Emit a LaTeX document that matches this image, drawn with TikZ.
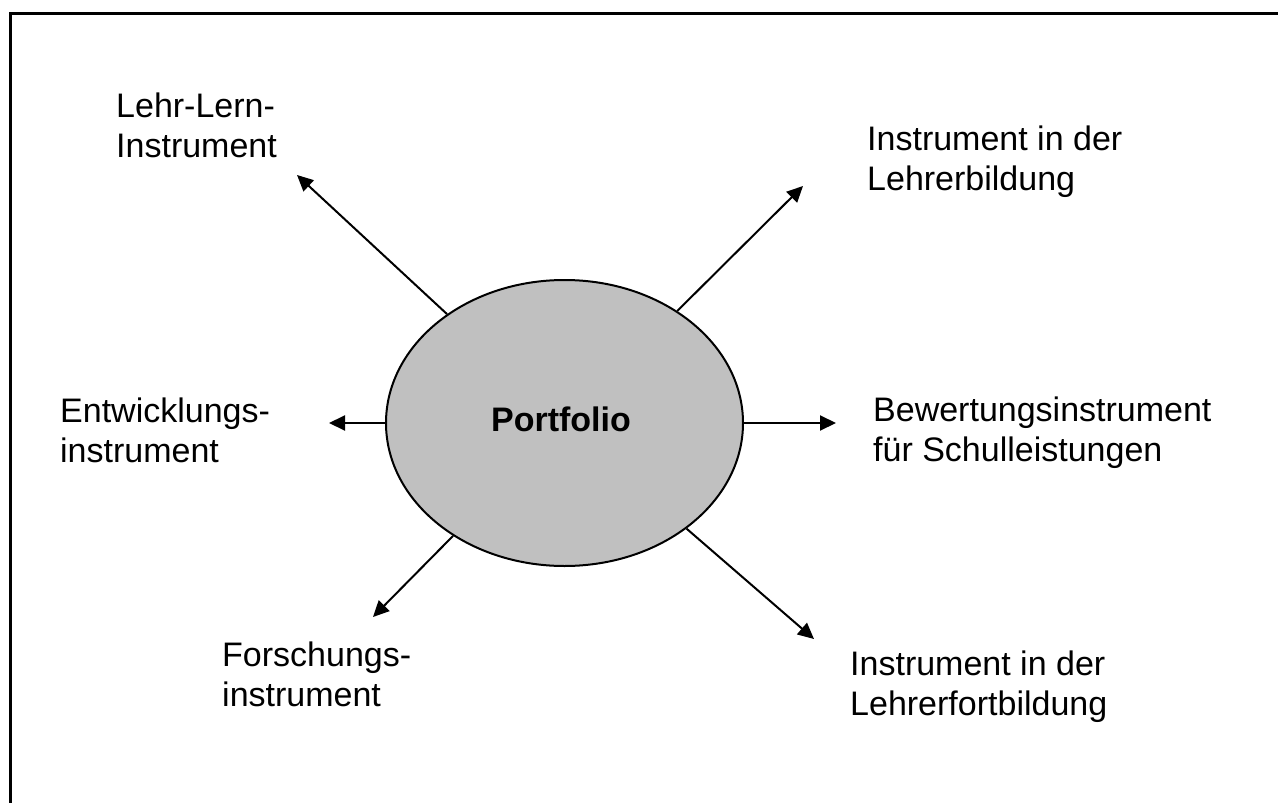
\documentclass[tikz,border=0pt]{standalone}
\usepackage{fontspec}
\setmainfont{Liberation Sans}
\usetikzlibrary{shapes.geometric,arrows.meta}
\begin{document}
\begin{tikzpicture}[x=1pt,y=-1pt,
  lbl/.style={inner sep=0pt, anchor=north west, align=left, font=\fontsize{34}{40}\selectfont},
  arr/.style={line width=2pt, -{Triangle[length=16pt,width=15pt]}},
  hub/.style={ellipse, draw, line width=2pt, fill={rgb,255:red,192;green,192;blue,192},
    minimum width=357pt, minimum height=286pt, inner sep=0pt, font=\fontsize{34}{40}\selectfont\bfseries}]
\useasboundingbox (0,0) rectangle (1278,803);
\draw[line width=3pt] (10.5,810) -- (10.5,13.5) -- (1285,13.5);
\node[hub] (P) at (564.5,423) {};
\node[inner sep=0pt, font=\fontsize{34}{40}\selectfont\bfseries] (Pt) at (561,419) {Portfolio};
\coordinate (tNW) at (297,175);
\coordinate (tNE) at (803,186);
\coordinate (tW) at (329,423);
\coordinate (tE) at (836,423);
\coordinate (tSW) at (373,617);
\coordinate (tSE) at (814,639);
\draw[arr] (P) -- (tNW);
\draw[arr] (P) -- (tNE);
\draw[arr] (P) -- (tW);
\draw[arr] (P) -- (tE);
\draw[arr] (P) -- (tSW);
\draw[arr] (P) -- (tSE);
\node[lbl] (l1) at (116,93) {Lehr-Lern-\\Instrument};
\node[lbl] (l2) at (867,126) {Instrument in der\\Lehrerbildung};
\node[lbl] (l3) at (60,398) {Entwicklungs-\\instrument};
\node[lbl] (l4) at (873,397) {Bewertungsinstrument\\für Schulleistungen};
\node[lbl] (l5) at (222,642) {Forschungs-\\instrument};
\node[lbl] (l6) at (850,651) {Instrument in der\\Lehrerfortbildung};
\end{tikzpicture}
\end{document}
